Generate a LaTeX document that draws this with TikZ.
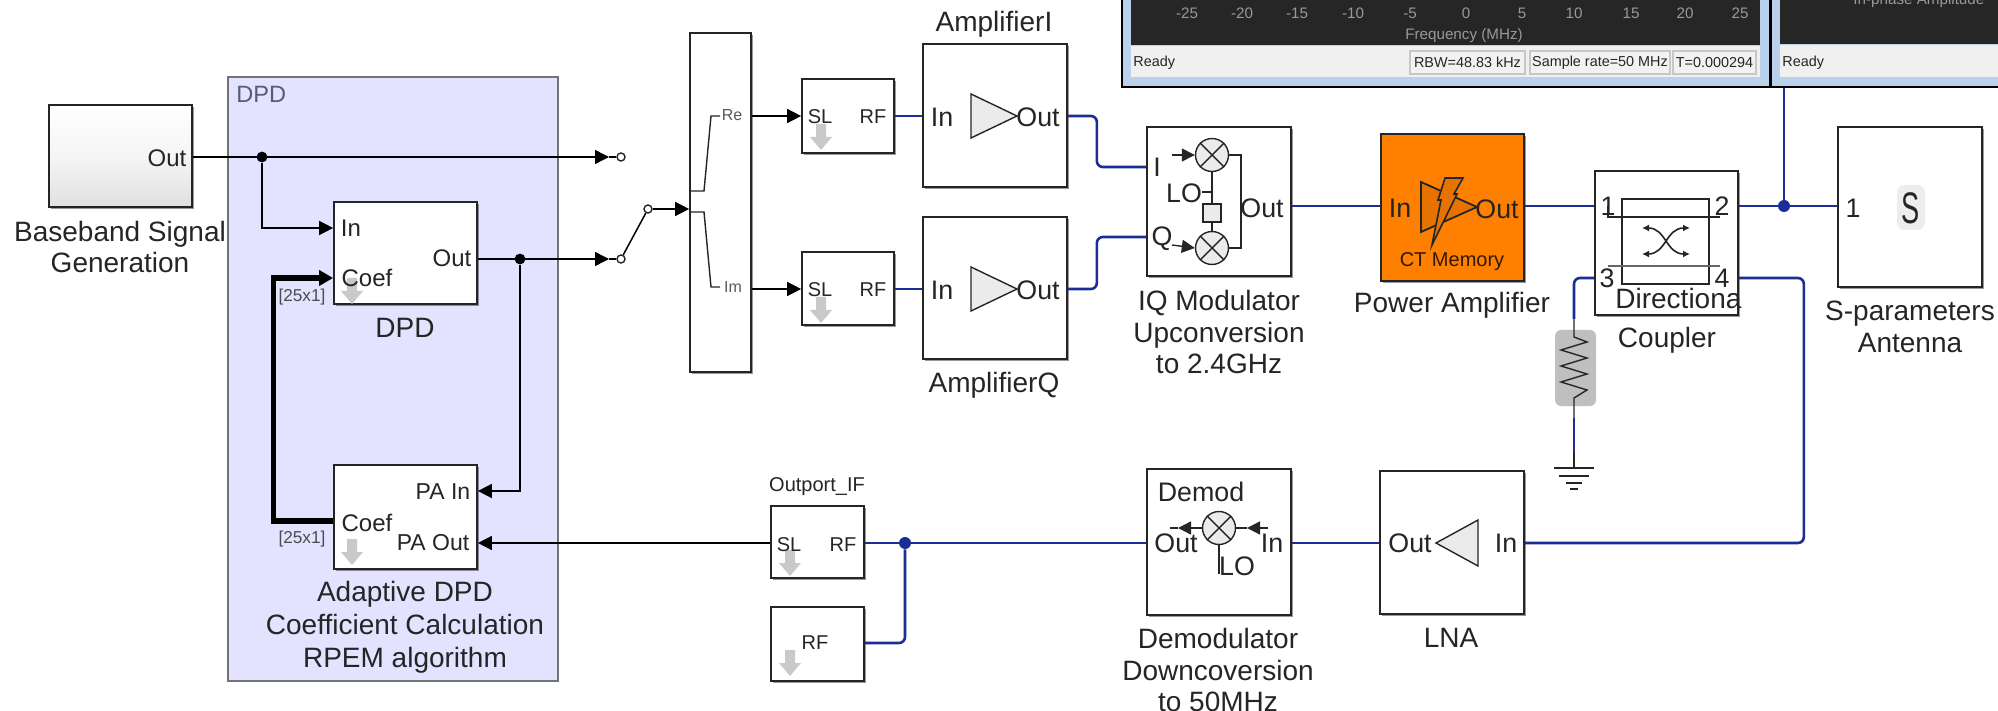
\documentclass[tikz,border=0pt]{standalone}
\usepackage{fontspec}
\usepackage{graphicx}
\setmainfont{Liberation Sans}
\usetikzlibrary{arrows.meta,fit,shadows,calc}
\definecolor{rfblue}{HTML}{1C2E96}
\definecolor{areafill}{HTML}{E3E3FF}
\definecolor{ink}{HTML}{252525}
\definecolor{framec}{HTML}{B9D1EA}
\definecolor{darkscope}{HTML}{262626}
\definecolor{paorange}{HTML}{FF8000}
\definecolor{padark}{HTML}{E67300}
\definecolor{grayarrow}{HTML}{C9C9C9}
\newcommand{\dnarrow}[2]{\fill[grayarrow] (#1-5,#2-13) -- (#1+5,#2-13) -- (#1+5,#2) -- (#1+11,#2) -- (#1,#2+13) -- (#1-11,#2) -- (#1-5,#2) -- cycle;}
\tikzset{
  x=0.5pt,y=-0.5pt,
  sh/.style={drop shadow={shadow xshift=1.2pt,shadow yshift=-1.2pt,opacity=.4,fill=black}},
  block/.style={draw=ink,line width=.85pt,fill=white,inner sep=0pt,sh},
  txt/.style={text=ink,inner sep=0pt,align=center},
  lab/.style={txt,font=\fontsize{14}{15.8}\selectfont},
  port/.style={txt,font=\fontsize{13.4}{15}\selectfont},
  porta/.style={txt,font=\fontsize{12}{14}\selectfont},
  portb/.style={txt,font=\fontsize{10}{12}\selectfont},
  portc/.style={txt,font=\fontsize{8}{10}\selectfont,text=black!65},
  dims/.style={txt,font=\fontsize{8.6}{10}\selectfont,text=black!70},
  stat/.style={inner sep=0pt,text=ink,font=\fontsize{7.2}{9}\selectfont},
  tick/.style={inner sep=0pt,text=black!40,font=\fontsize{7.6}{9}\selectfont},
  pane/.style={draw=black!22,line width=.6pt,fill=black!5,inner sep=0pt},
  sig/.style={draw=black,line width=.75pt},
  sigarrow/.style={sig,-{Triangle[length=7pt,width=7pt]}},
  fat/.style={draw=black,line width=2.6pt,-{Triangle[length=7pt,width=7.5pt]}},
  rf/.style={draw=rfblue,line width=1.3pt,rounded corners=3pt},
  dot/.style={circle,fill=black,inner sep=0pt,minimum size=5.4pt},
  rfdot/.style={circle,fill=rfblue,inner sep=0pt,minimum size=6pt},
  swc/.style={circle,draw=ink,line width=.7pt,fill=white,inner sep=0pt,minimum size=4pt},
  mixer/.style={circle,draw=ink,line width=.7pt,fill=black!8,inner sep=0pt,minimum size=16.5pt},
  icon/.style={draw=ink,line width=.7pt},
  mintip/.style={icon,-{Triangle[length=6.5pt,width=6.5pt]}},
}
\begin{document}
\begin{tikzpicture}
\path[use as bounding box,clip] (0,0) rectangle (1998,711);
\fill[white] (0,0) rectangle (1998,711);

% scope windows
\node[draw=black,line width=.7pt,fill=framec,inner sep=0pt,fit={(1122,-20) (1770,87)}] (win1) {};
\node[draw=black,line width=.7pt,fill=framec,inner sep=0pt,fit={(1771,-20) (2020,87)}] (win2) {};
\fill[darkscope] (1131,-20) rectangle (1760,45);
\fill[black!6] (1131,46) rectangle (1760,77);
\fill[darkscope] (1780,-20) rectangle (2020,44);
\fill[black!6] (1780,45) rectangle (2020,77);
\node[tick] (tA) at (1187,13) {-25};
\node[tick] (tB) at (1242,13) {-20};
\node[tick] (tC) at (1297,13) {-15};
\node[tick] (tD) at (1353,13) {-10};
\node[tick] (tE) at (1410,13) {-5};
\node[tick] (tF) at (1466,13) {0};
\node[tick] (tG) at (1522,13) {5};
\node[tick] (tH) at (1574,13) {10};
\node[tick] (tI) at (1631,13) {15};
\node[tick] (tJ) at (1685,13) {20};
\node[tick] (tK) at (1740,13) {25};
\node[tick] (fq) at (1464,36) {Frequency (MHz)};
\node[tick,anchor=west] (ip) at (1853,1) {In-phase Amplitude};
\node[stat,anchor=west] (rd1) at (1133,63) {Ready};
\node[stat,anchor=west] (rd2) at (1782,63) {Ready};
\node[pane,fit={(1410,51) (1525,74)}] (p1) {};
\node[pane,fit={(1530,51) (1670,74)}] (p2) {};
\node[pane,fit={(1673,51) (1756,74)}] (p3) {};
\node[stat] (s1) at (p1.center) {RBW=48.83 kHz};
\node[stat] (s2) at (p2.center) {Sample rate=50 MHz};
\node[stat] (s3) at (p3.center) {T=0.000294};

% DPD area
\node[draw=black!55,line width=.8pt,fill=areafill,inner sep=0pt,drop shadow={shadow xshift=.6pt,shadow yshift=-.6pt,opacity=.3,fill=black},fit={(228,77) (558,681)}] (area) {};
\node[txt,anchor=west,text=black!55!blue!30!gray,font=\fontsize{11.8}{14}\selectfont] (areatag) at (236,94) {DPD};

% blocks
\node[block,top color=white,bottom color=black!12,middle color=white!96!black,fit={(49,105) (192,207)}] (bb) {};
\node[block,fit={(334,202) (477,304)}] (dpd) {};
\node[block,fit={(334,465) (477,569)}] (adapt) {};
\node[block,fit={(690,33) (751,372)}] (mux) {};
\node[block,fit={(802,79) (894,153)}] (sl1) {};
\node[block,fit={(802,252) (894,325)}] (sl2) {};
\node[block,fit={(923,44) (1067,187)}] (ampI) {};
\node[block,fit={(923,217) (1067,359)}] (ampQ) {};
\node[block,fit={(1147,127) (1291,276)}] (iq) {};
\node[block,fill=paorange,fit={(1381,134) (1524,281)}] (pa) {};
\node[block,fit={(1595,171) (1738,315)}] (cpl) {};
\node[block,fit={(1838,127) (1982,287)}] (ant) {};
\node[block,fit={(771,506) (864,578)}] (slo) {};
\node[block,fit={(771,607) (864,681)}] (rfo) {};
\node[block,fit={(1147,469) (1291,615)}] (dem) {};
\node[block,fit={(1380,471) (1524,614)}] (lna) {};

% port coordinates
\coordinate (bbOut) at (bb.east |- 0,157);
\coordinate (dpdIn) at (dpd.west |- 0,228);
\coordinate (dpdCoef) at (dpd.west |- 0,278);
\coordinate (dpdOut) at (dpd.east |- 0,259);
\coordinate (adIn) at (adapt.east |- 0,491);
\coordinate (adOut) at (adapt.east |- 0,543);
\coordinate (adCoef) at (adapt.west |- 0,521);
\coordinate (muxIn) at (mux.west |- 0,209);
\coordinate (muxRe) at (mux.east |- 0,116);
\coordinate (muxIm) at (mux.east |- 0,289);
\coordinate (sl1In) at (sl1.west |- 0,116);
\coordinate (sl2In) at (sl2.west |- 0,289);
\coordinate (sl1Out) at (sl1.east |- 0,116);
\coordinate (sl2Out) at (sl2.east |- 0,289);
\coordinate (aIin) at (ampI.west |- 0,116);
\coordinate (aQin) at (ampQ.west |- 0,289);
\coordinate (aIout) at (ampI.east |- 0,116);
\coordinate (aQout) at (ampQ.east |- 0,289);
\coordinate (iqI) at (iq.west |- 0,167);
\coordinate (iqQ) at (iq.west |- 0,237);
\coordinate (iqOut) at (iq.east |- 0,206);
\coordinate (paIn) at (pa.west |- 0,206);
\coordinate (paOut) at (pa.east |- 0,206);
\coordinate (c1) at (cpl.west |- 0,206);
\coordinate (c2) at (cpl.east |- 0,206);
\coordinate (c3) at (cpl.west |- 0,278);
\coordinate (c4) at (cpl.east |- 0,278);
\coordinate (antIn) at (ant.west |- 0,206);
\coordinate (lnaIn) at (lna.east |- 0,543);
\coordinate (lnaOut) at (lna.west |- 0,543);
\coordinate (demIn) at (dem.east |- 0,543);
\coordinate (demOut) at (dem.west |- 0,543);
\coordinate (sloRF) at (slo.east |- 0,543);
\coordinate (sloSL) at (slo.west |- 0,543);
\coordinate (rfoRF) at (rfo.east |- 0,643);
\coordinate (tipU) at (609,157);
\coordinate (tipL) at (609,259);

% junctions and switch contacts
\node[dot] (j1) at (262,157) {};
\node[dot] (j2) at (520,259) {};
\node[rfdot] (j3) at (1784,206) {};
\node[rfdot] (j4) at (905,543) {};
\node[swc] (sw1) at (621,157) {};
\node[swc] (sw2) at (621,259) {};
\node[swc] (sw3) at (648,209) {};

% black signal connectors
\draw[sigarrow] (bbOut) -- (tipU);
\draw[sig] (tipU) -- (sw1);
\draw[sigarrow] (j1) |- (dpdIn);
\draw[sigarrow] (dpdOut) -- (tipL);
\draw[sig] (tipL) -- (sw2);
\draw[sig] (sw2) -- (sw3);
\draw[sigarrow] (sw3) -- (muxIn);
\draw[sigarrow] (j2) |- (adIn);
\draw[sigarrow] (muxRe) -- (sl1In);
\draw[sigarrow] (muxIm) -- (sl2In);
\draw[sigarrow] (sloSL) -- (adOut);
\draw[fat] (adCoef) -- ++(-60,0) |- (dpdCoef);

% blue RF connectors
\draw[rf] (sl1Out) -- (aIin);
\draw[rf] (sl2Out) -- (aQin);
\draw[rf] (aIout) -- ++(29,0) |- (iqI);
\draw[rf] (aQout) -- ++(29,0) |- (iqQ);
\draw[rf] (iqOut) -- (paIn);
\draw[rf] (paOut) -- (c1);
\draw[rf] (c2) -- (antIn);
\draw[rf] (j3) -- (j3 |- win2.south);
\draw[rf] (c4) -- ++(65,0) |- (lnaIn);
\draw[rf] (lnaOut) -- (demIn);
\draw[rf] (demOut) -- (sloRF);
\draw[rf] (rfoRF) -| (j4);

% gray down arrows
\dnarrow{352}{291}
\dnarrow{352}{552}
\dnarrow{821}{137}
\dnarrow{821}{310}
\dnarrow{790}{563}
\dnarrow{790}{663}

% left side labels
\node[porta] (t1) at (167,158) {Out};
\node[lab] (t2) at (120,247) {Baseband Signal\\Generation};
\node[porta] (t3) at (351,228) {In};
\node[porta] (t4) at (367,278) {Coef};
\node[porta] (t5) at (452,258) {Out};
\node[lab] (t6) at (405,328) {DPD};
\node[dims] (t7) at (302,297) {[25x1]};
\node[porta,font=\fontsize{11.5}{14}\selectfont] (t8) at (443,492) {PA In};
\node[porta] (t9) at (367,523) {Coef};
\node[porta,font=\fontsize{11.5}{14}\selectfont] (t10) at (433,543) {PA Out};
\node[dims] (t11) at (302,539) {[25x1]};
\node[lab,font=\fontsize{14}{16.4}\selectfont] (t12) at (405,627) {Adaptive DPD\\Coefficient Calculation\\RPEM algorithm};

% mux internals
\draw[icon] (mux.west |- 0,191) -- (704,191) -- (711,116) -- (720,116);
\draw[icon] (mux.west |- 0,212) -- (704,212) -- (711,287) -- (720,287);
\node[portc] (t13) at (732,115) {Re};
\node[portc] (t14) at (733,287) {Im};

% RF inports and amplifiers
\node[portb] (t15) at (820,117) {SL};
\node[portb] (t16) at (873,117) {RF};
\node[portb] (t17) at (820,290) {SL};
\node[portb] (t18) at (873,290) {RF};
\node[port] (t19) at (942,117) {In};
\node[port] (t20) at (1038,117) {Out};
\node[port] (t21) at (942,290) {In};
\node[port] (t22) at (1038,290) {Out};
\filldraw[icon,fill=black!8] (971,94) -- (971,138) -- (1017,116) -- cycle;
\filldraw[icon,fill=black!8] (971,267) -- (971,311) -- (1017,289) -- cycle;
\node[lab] (t23) at (994,24) {AmplifierI};
\node[lab] (t24) at (994,385) {AmplifierQ};

% IQ modulator
\node[mixer] (m1) at (1212,155) {};
\node[mixer] (m2) at (1212,248) {};
\node[draw=ink,line width=.7pt,fill=black!8,inner sep=0pt,minimum size=9pt] (lo) at (1212,213) {};
\draw[icon] (m1.45) -- (m1.225) (m1.135) -- (m1.315);
\draw[icon] (m2.45) -- (m2.225) (m2.135) -- (m2.315);
\draw[icon] (m1) -- (lo) (lo) -- (m2);
\draw[icon] (m1.south) ++(0,20) -- ++(-10,0);
\draw[icon] (m1.east) -- (1241,155) -- (1241,248) -- (m2.east);
\coordinate (iqa) at (1172,155);
\coordinate (iqb) at (1172,245);
\draw[mintip] (iqa) -- (m1.west);
\draw[mintip] (iqb) -- (m2.west);
\node[port] (t25) at (1157,167) {I};
\node[port] (t26) at (1162,239) {Q};
\node[port] (t27) at (1184,193) {LO};
\node[port] (t28) at (1262,208) {Out};
\node[lab] (t29) at (1219,332) {IQ Modulator\\Upconversion\\to 2.4GHz};

% power amplifier
\filldraw[icon,line width=.9pt,fill=padark] (1421,182) -- (1421,232) -- (1477,207) -- cycle;
\filldraw[icon,line width=.8pt,fill=padark] (1445,178) -- (1463,178) -- (1454,194) -- (1457,194) -- (1432,245) -- (1441,200) -- (1438,200) -- cycle;
\node[port] (t30) at (1400,208) {In};
\node[port] (t31) at (1497,209) {Out};
\node[txt,font=\fontsize{10}{12}\selectfont,text=black!80!paorange] (t32) at (1452,262) {CT Memory};
\node[lab] (t33) at (1452,305) {Power Amplifier};

% coupler
\draw[icon] (1622,199) rectangle (1709,284);
\draw[icon] (1608,206) -- (1608,217) -- (1720,217);
\draw[draw=ink!70,line width=1pt] (1608,266) -- (1720,266);
\draw[icon,line width=.8pt,{Latex[length=3.5pt,width=3.5pt]}-{Latex[length=3.5pt,width=3.5pt]}] (1642,228) .. controls (1666,228) and (1666,254) .. (1690,254);
\draw[icon,line width=.8pt,{Latex[length=3.5pt,width=3.5pt]}-{Latex[length=3.5pt,width=3.5pt]}] (1642,254) .. controls (1666,254) and (1666,228) .. (1690,228);
\node[port] (t34) at (1608,206) {1};
\node[port] (t35) at (1722,206) {2};
\node[port] (t36) at (1607,278) {3};
\node[port] (t37) at (1722,278) {4};
\node[lab,anchor=west] (t38) at (1615,298) {Directiona};
\node[lab] (t39) at (1667,340) {Coupler};

% load resistor and ground
\node[draw=none,fill=black!25,rounded corners=3pt,inner sep=0pt,fit={(1555,330) (1596,406)}] (res) {};
\coordinate (rtop) at (1574,319);
\coordinate (rbot) at (1574,418);
\coordinate (rgnd) at (1574,453);
\coordinate (gnd) at (1574,468);
\draw[rf] (c3) -| (rtop);
\draw[icon] (rtop) -- (1574,337) -- (1587,342) -- (1561,350) -- (1587,358) -- (1561,366) -- (1587,374) -- (1561,382) -- (1587,390) -- (1574,398) -- (rbot);
\draw[rf] (rbot) -- (rgnd);
\draw[icon] (rgnd) -- (gnd);
\draw[icon] (1554,468) -- (1594,468);
\draw[icon] (1559,476) -- (1589,476);
\draw[icon] (1566,483) -- (1582,483);
\draw[icon] (1570,489) -- (1578,489);

% antenna
\node[fill=black!7,rounded corners=4pt,inner sep=0pt,fit={(1897,185) (1925,230)}] (sbg) {};
\node[txt,font=\fontsize{17}{20}\selectfont] (t40) at (1911,208) {\scalebox{.8}[1.3]{S}};
\node[port] (t41) at (1853,208) {1};
\node[lab] (t42) at (1910,327) {S-parameters\\Antenna};

% lower chain
\node[portb] (t43) at (789,545) {SL};
\node[portb] (t44) at (843,545) {RF};
\node[portb] (t45) at (815,643) {RF};
\node[portb] (t46) at (817,487) {Outport\_IF};
\node[port] (t47) at (1201,492) {Demod};
\node[mixer] (m3) at (1219,528) {};
\draw[icon] (m3.45) -- (m3.225) (m3.135) -- (m3.315);
\coordinate (dml) at (1170,528);
\coordinate (dmr) at (1268,528);
\coordinate (dlo) at (1219,574);
\draw[mintip] (m3.west) -- (1178,528);
\draw[icon] (1178,528) -- (dml);
\draw[mintip] (dmr) -- (1247,528);
\draw[icon] (1247,528) -- (m3.east);
\draw[icon] (m3.south) -- (dlo);
\node[port] (t48) at (1176,543) {Out};
\node[port] (t49) at (1272,543) {In};
\node[port] (t50) at (1237,566) {LO};
\node[lab] (t51) at (1218,670) {Demodulator\\Downcoversion\\to 50MHz};
\node[port] (t52) at (1410,543) {Out};
\filldraw[icon,fill=black!8] (1478,520) -- (1478,566) -- (1436,543) -- cycle;
\node[port] (t53) at (1506,543) {In};
\node[lab] (t54) at (1451,638) {LNA};
\end{tikzpicture}
\end{document}
